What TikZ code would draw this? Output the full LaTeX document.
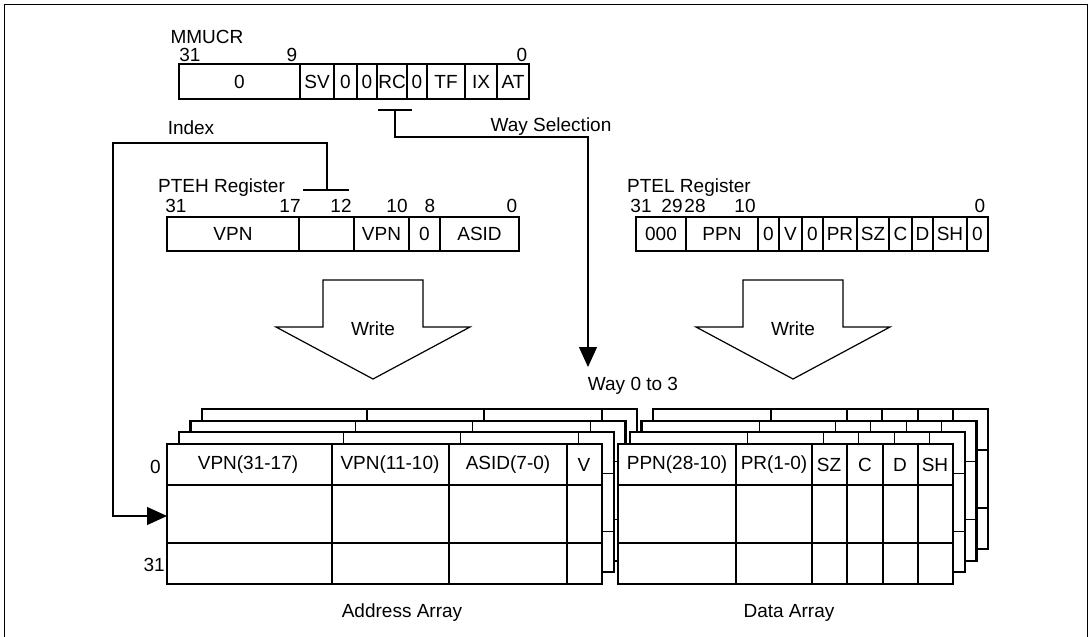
\documentclass[tikz,border=0pt]{standalone}
\usepackage{fontspec}
\setmainfont{Liberation Sans}
\usetikzlibrary{arrows.meta}
\tikzset{
  outer/.style={line width=2.2pt},
  inner/.style={line width=1.3pt},
  conn/.style={line width=1.2pt},
  lbl/.style={inner sep=0pt, font=\fontsize{19}{21}\selectfont},
  tip/.style={-{Triangle[length=20pt,width=18pt]}},
  blockarrow/.style={line width=1.2pt, fill=white, line join=miter}
}
\newcommand\AddrTable[1]{%
  \begin{scope}[shift={(#1,-#1)}]
    \fill[white] (167,444) rectangle (602,584);
    \draw[inner] (167,485) -- (602,485) (167,543) -- (602,543)
      (332,444) -- (332,584) (449,444) -- (449,584) (567,444) -- (567,584);
    \draw[outer] (167,444) rectangle (602,584);
  \end{scope}}
\newcommand\DataTable[1]{%
  \begin{scope}[shift={(#1,-#1)}]
    \fill[white] (618,444) rectangle (953,584);
    \draw[inner] (618,485) -- (953,485) (618,543) -- (953,543)
      (736,444) -- (736,584) (812,444) -- (812,584) (847,444) -- (847,584)
      (883,444) -- (883,584) (918,444) -- (918,584);
    \draw[outer] (618,444) rectangle (953,584);
  \end{scope}}
\begin{document}
\begin{tikzpicture}[x=1pt,y=-1pt]
\useasboundingbox (0,0) rectangle (1092,637);
\draw[line width=1.2pt] (4.5,645) -- (4.5,4.5) -- (1087.5,4.5) -- (1087.5,645);

% ---------- MMUCR ----------
\node[lbl] (mmucr) at (207,37) {MMUCR};
\node[lbl] (m31) at (190,55) {31};
\node[lbl] (m9) at (292,55) {9};
\node[lbl] (m0) at (522,55) {0};
\foreach \a/\b/\t [count=\i] in {179/300/0,300/334/SV,334/357/0,357/377/0,377/407/RC,407/427/0,427/465/TF,465/497/IX,497/529/AT}{
  \draw[inner] (\b,64) -- (\b,99);
  \node[lbl] (mc\i) at ({(\a+\b)/2},82) {\t};
}
\draw[outer] (179,64) rectangle (529,99);

% ---------- PTEH ----------
\node[lbl, anchor=west] (ptehlbl) at (158,188) {PTEH Register};
\node[lbl] (h31) at (176,206) {31};
\node[lbl] (h17) at (290,206) {17};
\node[lbl] (h12) at (341,206) {12};
\node[lbl] (h10) at (397,206) {10};
\node[lbl] (h8) at (430,206) {8};
\node[lbl] (h0) at (512,206) {0};
\foreach \a/\b/\t [count=\i] in {167/299/VPN,299/354/,354/409/VPN,409/440/0,440/519/ASID}{
  \draw[inner] (\b,217) -- (\b,251);
  \node[lbl] (hc\i) at ({(\a+\b)/2},234) {\t};
}
\draw[outer] (167,217) rectangle (519,251);

% ---------- PTEL ----------
\node[lbl, anchor=west] (ptellbl) at (627,188) {PTEL Register};
\node[lbl] (l31) at (641,206) {31};
\node[lbl] (l29) at (672,206) {29};
\node[lbl] (l28) at (695,206) {28};
\node[lbl] (l10) at (745,206) {10};
\node[lbl] (l0) at (980,206) {0};
\foreach \a/\b/\t [count=\i] in {636/686/000,686/758/PPN,758/779/0,779/802/V,802/823/0,823/857/PR,857/889/SZ,889/912/C,912/933/D,933/967/SH,967/988/0}{
  \draw[inner] (\b,217) -- (\b,251);
  \node[lbl] (lc\i) at ({(\a+\b)/2},234) {\t};
}
\draw[outer] (636,217) rectangle (988,251);

% ---------- Write block arrows ----------
\draw[blockarrow] (323,280) -- (423,280) -- (423,327) -- (470,327) -- (373,379) -- (276,327) -- (323,327) -- cycle;
\node[lbl] (w1) at (373,329) {Write};
\draw[blockarrow] (743,280) -- (843,280) -- (843,327) -- (890,327) -- (793,379) -- (696,327) -- (743,327) -- cycle;
\node[lbl] (w2) at (793,329) {Write};

% ---------- Arrays ----------
\foreach \k in {3,2,1}{ \AddrTable{\k*11.7} }
\AddrTable{0}
\foreach \k in {3,2,1}{ \DataTable{\k*11.7} }
\DataTable{0}

\node[lbl] (a1) at (248,465) {VPN(31-17)};
\node[lbl] (a2) at (390,465) {VPN(11-10)};
\node[lbl] (a3) at (508,465) {ASID(7-0)};
\node[lbl] (a4) at (584,465) {V};
\node[lbl] (d1) at (677,465) {PPN(28-10)};
\node[lbl] (d2) at (774,465) {PR(1-0)};
\node[lbl] (d3) at (829,465) {SZ};
\node[lbl] (d4) at (865,465) {C};
\node[lbl] (d5) at (900,465) {D};
\node[lbl] (d6) at (935,465) {SH};
\node[lbl, anchor=east] (r0) at (161,467) {0};
\node[lbl, anchor=east] (r31) at (165,565) {31};
\node[lbl] (aa) at (402,613) {Address Array};
\node[lbl] (da) at (789,613) {Data Array};
\node[lbl] (way) at (633,386) {Way 0 to 3};

% ---------- Connectors ----------
\node[lbl] (idx) at (191,128) {Index};
\node[lbl] (wsel) at (551,127) {Way Selection};
\coordinate (idxT) at (327,190);
\coordinate (addrIn) at (167,516);
\coordinate (wsT) at (395,110);
\coordinate (wayTip) at (588,367);
\draw[conn] (303,190) -- (349,190);
\draw[conn, tip] (idxT) -- (327,143) -| (113,516) -- (addrIn);
\draw[conn] (378,110) -- (412,110);
\draw[conn, tip] (wsT) |- (588,137) -- (wayTip);
\end{tikzpicture}
\end{document}
